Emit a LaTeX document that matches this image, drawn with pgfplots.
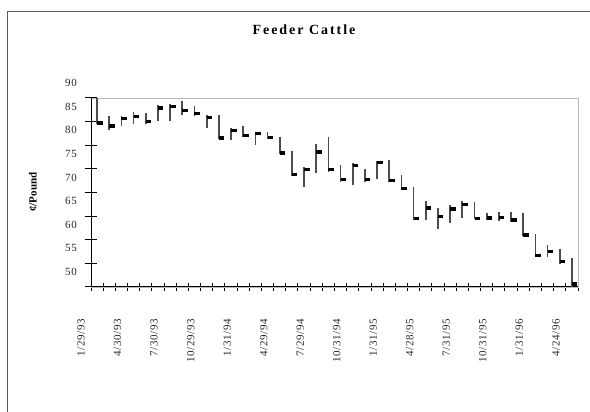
\documentclass[border=0pt]{standalone}
\usepackage{fontspec}
\setmainfont{Liberation Serif}
\newfontfamily\tickfont[LetterSpace=6]{Liberation Serif}
\newfontfamily\titlefont[LetterSpace=14]{Liberation Serif}
\usepackage{pgfplots}
\pgfplotsset{compat=1.18}
\usepackage{pgfplotstable}

% close marker: short bar to the right of the high-low line
\pgfdeclareplotmark{closedash}{%
  \pgfpathrectangle{\pgfpoint{0pt}{-1.7pt}}{\pgfpoint{5.5pt}{3.4pt}}%
  \pgfusepathqfill}

\pgfplotstableread{
idx high low close
0  90.0 84.5 84.7
1  86.1 83.2 84.1
2  86.1 84.0 85.6
3  87.0 84.5 86.1
4  86.8 84.5 85.0
5  88.5 85.1 87.9
6  88.7 85.2 88.2
7  89.4 86.4 87.3
8  88.3 86.2 86.7
9  86.4 83.7 85.9
10 86.4 81.3 81.5
11 83.6 81.1 83.1
12 84.1 81.8 82.0
13 82.9 80.1 82.5
14 82.9 81.4 81.7
15 81.8 78.2 78.4
16 78.8 73.7 73.8
17 75.3 71.2 74.9
18 80.3 74.2 78.6
19 81.8 74.4 74.9
20 75.8 72.3 72.8
21 76.2 71.6 75.7
22 75.0 72.3 72.8
23 76.7 72.9 76.4
24 76.9 72.3 72.6
25 73.7 70.5 70.9
26 71.2 64.2 64.5
27 68.2 64.2 66.7
28 66.8 62.3 64.9
29 67.4 63.5 66.5
30 68.1 64.5 67.5
31 67.9 64.4 64.5
32 65.6 64.2 64.6
33 65.9 63.9 64.7
34 65.9 63.8 64.2
35 65.6 60.7 61.0
36 61.2 56.4 56.7
37 58.8 56.4 57.5
38 58.0 54.9 55.4
39 56.1 50.1 50.6
}\cattle

\begin{document}
\begin{tikzpicture}
\useasboundingbox (0,0) rectangle (590pt,412pt);
\draw[gray!70!black, line width=1pt] (7.5pt,0pt) -- (7.5pt,400pt) -- (590pt,400pt);
\node[font=\titlefont\bfseries\fontsize{14}{16}\selectfont] at (304pt,382pt) {Feeder Cattle};
\node[rotate=90, font=\bfseries\fontsize{11}{12}\selectfont] at (33pt,220pt) {¢/Pound};

\begin{axis}[
  at={(91pt,125pt)}, anchor=south west,
  width=487pt, height=189pt, scale only axis,
  xmin=-0.5, xmax=39.5, ymin=50, ymax=90,
  axis line style={gray!55, line width=0.8pt},
  xtick pos=bottom, ytick pos=left,
  ytick={50,55,...,90},
  xtick={0,3,...,39},
  xticklabels={1/29/93,4/30/93,7/30/93,10/29/93,1/31/94,4/29/94,7/29/94,
    10/31/94,1/31/95,4/28/95,7/31/95,10/31/95,1/31/96,4/24/96},
  minor xtick={-0.5,0.5,...,39.5},
  tick align=center,
  major tick length=12pt, minor tick length=8pt,
  ytick style={black, line width=1pt},
  major x tick style={draw=none},
  minor x tick style={black, line width=1pt},
  /pgf/number format/assume math mode=true,
  yticklabel style={font=\tickfont\fontsize{11}{12}\selectfont, text=black!85,
    inner sep=0pt, anchor=east, xshift=-8pt, yshift=15pt},
  xticklabel style={font=\tickfont\fontsize{11}{12}\selectfont, text=black!85,
    inner sep=0pt, xshift=-16pt, yshift=-26pt, rotate=90, anchor=east},
]
\draw[black, line width=1.5pt] (rel axis cs:0,1) -- (rel axis cs:0,0) -- (rel axis cs:1,0);
\addplot[black, mark=closedash, only marks,
  error bars/.cd, y dir=both, y explicit,
  error mark=none, error bar style={black!70, line width=1.7pt}]
  table[x=idx, y=close,
    y error plus expr=\thisrow{high}-\thisrow{close},
    y error minus expr=\thisrow{close}-\thisrow{low}] {\cattle};
\end{axis}
\end{tikzpicture}
\end{document}
